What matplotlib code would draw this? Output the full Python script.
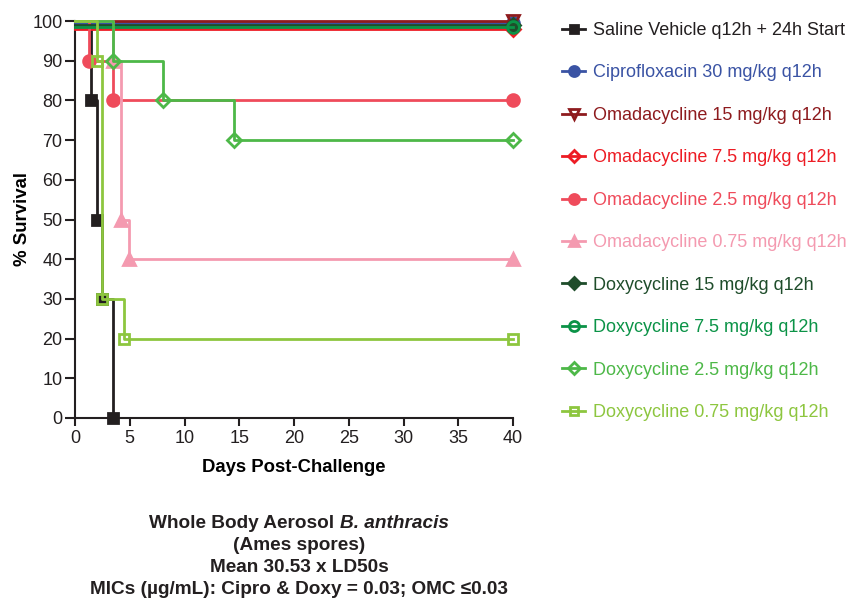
import matplotlib
matplotlib.use("Agg")
import matplotlib.pyplot as plt
from matplotlib.lines import Line2D

plt.rcParams['font.family'] = ['Liberation Sans', 'DejaVu Sans']

# Kaplan-Meier style survival data (day of event, % surviving after it)
saline_days = [0, 1.5, 2.0, 2.5, 3.5]
saline_surv = [100, 80, 50, 30, 0]
cipro30_days = [0, 40]
cipro30_surv = [99.5, 99.5]
omc15_days = [0, 40]
omc15_surv = [100, 100]
omc7_days = [0, 40]
omc7_surv = [98, 98]
omc2_days = [0, 1.3, 3.5, 40]
omc2_surv = [100, 90, 80, 80]
omc075_days = [0, 3.5, 4.2, 4.9, 40]
omc075_surv = [100, 90, 50, 40, 40]
doxy15_days = [0, 40]
doxy15_surv = [99, 99]
doxy7_days = [0, 40]
doxy7_surv = [98.5, 98.5]
doxy2_days = [0, 3.5, 8, 14.5, 40]
doxy2_surv = [100, 90, 80, 70, 70]
doxy075_days = [0, 2.0, 2.5, 4.5, 40]
doxy075_surv = [100, 90, 30, 20, 20]

labels = ["Saline Vehicle q12h + 24h Start",
          "Ciprofloxacin 30 mg/kg q12h",
          "Omadacycline 15 mg/kg q12h",
          "Omadacycline 7.5 mg/kg q12h",
          "Omadacycline 2.5 mg/kg q12h",
          "Omadacycline 0.75 mg/kg q12h",
          "Doxycycline 15 mg/kg q12h",
          "Doxycycline 7.5 mg/kg q12h",
          "Doxycycline 2.5 mg/kg q12h",
          "Doxycycline 0.75 mg/kg q12h"]
colors = ["#231f20", "#3a53a4", "#8e1b1e", "#ed1c24", "#ef4b5b",
          "#f49ab0", "#1f4d2b", "#0b9347", "#4db848", "#8dc63f"]
# (marker, filled)
markers = [("s", True), ("o", True), ("v", False), ("D", False), ("o", True),
           ("^", True), ("D", True), ("o", False), ("D", False), ("s", False)]
msizes = [7.5, 8.5, 8.5, 7, 8.5, 8.5, 7, 8.5, 7, 7.5]

series = [(saline_days, saline_surv), (cipro30_days, cipro30_surv),
          (omc15_days, omc15_surv), (omc7_days, omc7_surv),
          (omc2_days, omc2_surv), (omc075_days, omc075_surv),
          (doxy15_days, doxy15_surv), (doxy7_days, doxy7_surv),
          (doxy2_days, doxy2_surv), (doxy075_days, doxy075_surv)]

fig = plt.figure(figsize=(8.47, 5.99), dpi=100)
ax = fig.add_axes([75 / 847, 1 - 418 / 599, 438 / 847, 397 / 599])

handles = []
for i, (days, surv) in enumerate(series):
    m, filled = markers[i]
    c = colors[i]
    fc = c if filled else "none"
    ax.plot(days, surv, drawstyle="steps-post", color=c, lw=2,
            zorder=2 + i, clip_on=False)
    ax.plot(days[1:], surv[1:], ls="none", marker=m, ms=msizes[i],
            mfc=fc, mec=c, mew=2, zorder=2 + i, clip_on=False)
    handles.append(Line2D([], [], color=c, lw=2, marker=m, ms=msizes[i] * 0.85,
                          mfc=fc, mec=c, mew=2))

ax.set_xlim(0, 40)
ax.set_ylim(0, 100)
ax.set_xticks(range(0, 41, 5))
ax.set_yticks(range(0, 101, 10))
for s in ["top", "right"]:
    ax.spines[s].set_visible(False)
for s in ["left", "bottom"]:
    ax.spines[s].set_linewidth(1.5)
    ax.spines[s].set_color("#231f20")
ax.tick_params(width=1.5, labelsize=13, colors="#231f20")
ax.tick_params(axis="x", length=5.5, pad=3)
ax.tick_params(axis="y", length=7, pad=2)
ax.set_xlabel("Days Post-Challenge", fontsize=13.3, fontweight="bold", labelpad=9)
ax.set_ylabel("% Survival", fontsize=13.4, fontweight="bold", labelpad=1)

leg = fig.legend(handles, labels, loc="upper left",
                 bbox_to_anchor=(562 / 847, 1 - 22 / 599), frameon=False,
                 fontsize=13, handlelength=1.3, handletextpad=0.4,
                 labelspacing=1.41, borderaxespad=0, borderpad=0)
for txt, c in zip(leg.get_texts(), colors):
    txt.set_color(c)

# caption under the plot
cx = 299 / 847
fs = 13.7
fig.canvas.draw()
r = fig.canvas.get_renderer()
y1 = 1 - 524 / 599
t1 = fig.text(0, y1, "Whole Body Aerosol ", fontsize=fs, fontweight="bold",
              va="center", ha="left", color="#231f20")
t2 = fig.text(0, y1, "B. anthracis", fontsize=fs, fontweight="bold",
              style="italic", va="center", ha="left", color="#231f20")
w1 = t1.get_window_extent(r).width / 847
w2 = t2.get_window_extent(r).width / 847
t1.set_x(cx - (w1 + w2) / 2)
t2.set_x(cx - (w1 + w2) / 2 + w1)
for k, line in enumerate(["(Ames spores)", "Mean 30.53 x LD50s",
                          "MICs (\u00b5g/mL): Cipro & Doxy = 0.03; OMC \u22640.03"]):
    fig.text(cx, 1 - (546 + 21.7 * k) / 599, line, fontsize=fs,
             fontweight="bold", ha="center", va="center", color="#231f20")

fig.savefig("out.png", dpi=100)
